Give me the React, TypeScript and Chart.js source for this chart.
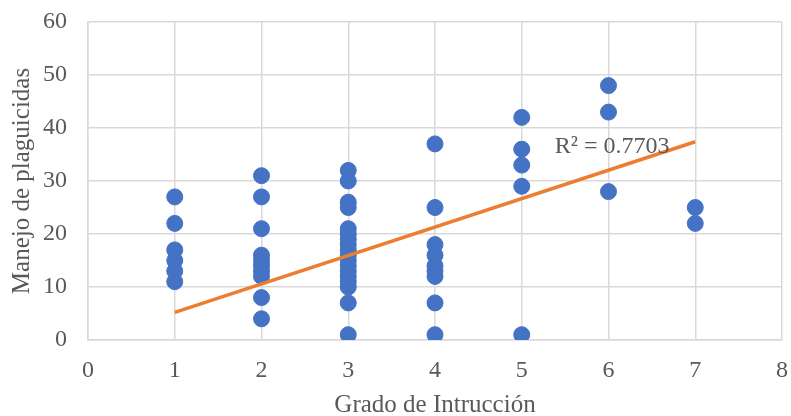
import React, { useEffect, useRef } from "react";
import { Chart, registerables } from "chart.js";

Chart.register(...registerables);

// Grado de instrucción (x) per column and Manejo de plaguicidas values (y)
const grado1 = [27, 22, 17, 15, 13, 11];
const grado2 = [31, 27, 21, 16, 15, 14, 13, 12, 8, 4];
const grado3 = [32, 30, 26, 25, 21, 20, 19, 18, 17, 16, 15, 14, 13, 12, 11, 10, 7, 1];
const grado4 = [37, 25, 18, 16, 14, 13, 12, 7, 1];
const grado5 = [42, 36, 33, 29, 1];
const grado6 = [48, 43, 28];
const grado7 = [25, 22];
const columns = [grado1, grado2, grado3, grado4, grado5, grado6, grado7];

// Linear trend line endpoints (x, y)
const trendX = [1, 7];
const trendY = [5.2, 37.4];

const r2Label = "R² = 0.7703";
const r2Pos = { x: 5.38, y: 36.4 };

const xTitle = "Grado de Intrucción";
const yTitle = "Manejo de plaguicidas";

const FONT = "'Liberation Serif', 'Times New Roman', serif";
const TEXT = "#595959";
const GRID = "#d9d9d9";

export default function App() {
  const ref = useRef<HTMLCanvasElement | null>(null);

  useEffect(() => {
    if (!ref.current) return;
    const points: { x: number; y: number }[] = [];
    columns.forEach((col, i) => col.forEach((v) => points.push({ x: i + 1, y: v })));
    const trend = trendX.map((x, i) => ({ x, y: trendY[i] }));

    const r2Plugin = {
      id: "r2",
      afterDatasetsDraw(chart: any) {
        const ctx = chart.ctx;
        const xs = chart.scales.x;
        const ys = chart.scales.y;
        ctx.save();
        ctx.font = `24px ${FONT}`;
        ctx.fillStyle = TEXT;
        ctx.textAlign = "left";
        ctx.textBaseline = "middle";
        ctx.fillText(r2Label, xs.getPixelForValue(r2Pos.x), ys.getPixelForValue(r2Pos.y));
        ctx.restore();
      },
    };

    const chart = new Chart(ref.current, {
      type: "scatter",
      data: {
        datasets: [
          {
            type: "line",
            data: trend,
            borderColor: "#ED7D31",
            borderWidth: 3.5,
            pointRadius: 0,
            fill: false,
          } as any,
          {
            data: points,
            backgroundColor: "#4472C4",
            borderColor: "#4472C4",
            pointRadius: 8,
            pointHoverRadius: 8,
          },
        ],
      },
      options: {
        animation: false,
        responsive: false,
        maintainAspectRatio: false,
        layout: { padding: { left: 0, top: 22, right: 8, bottom: 0 } },
        plugins: { legend: { display: false }, tooltip: { enabled: false } },
        scales: {
          x: {
            type: "linear",
            min: 0,
            max: 8,
            ticks: { stepSize: 1, color: TEXT, font: { family: FONT, size: 24 }, padding: 16 },
            grid: { color: GRID, lineWidth: 1.5, drawTicks: false },
            border: { color: GRID, width: 1.5 },
            title: {
              display: true,
              text: xTitle,
              color: TEXT,
              font: { family: FONT, size: 25, lineHeight: 0.88 },
              padding: { top: 0, bottom: 0 },
            },
            afterFit(scale: any) {
              scale.height = 76;
              scale.paddingLeft = 0;
              scale.paddingRight = 0;
            },
          },
          y: {
            min: 0,
            max: 60,
            ticks: { stepSize: 10, color: TEXT, font: { family: FONT, size: 24 }, padding: 21 },
            grid: { color: GRID, lineWidth: 1.5, drawTicks: false },
            border: { color: GRID, width: 1.5 },
            title: {
              display: true,
              text: yTitle,
              color: TEXT,
              font: { family: FONT, size: 25, lineHeight: 1.2 },
              padding: { top: 7, bottom: 0 },
            },
            afterFit(scale: any) {
              scale.width = 88;
              scale.paddingTop = 0;
              scale.paddingBottom = 0;
            },
          },
        },
      },
      plugins: [r2Plugin],
    });
    return () => chart.destroy();
  }, []);

  return (
    <div style={{ position: "fixed", left: 0, top: 0, width: 791, height: 416, background: "#fff" }}>
      <canvas ref={ref} width={791} height={416} style={{ width: 791, height: 416 }} />
    </div>
  );
}
